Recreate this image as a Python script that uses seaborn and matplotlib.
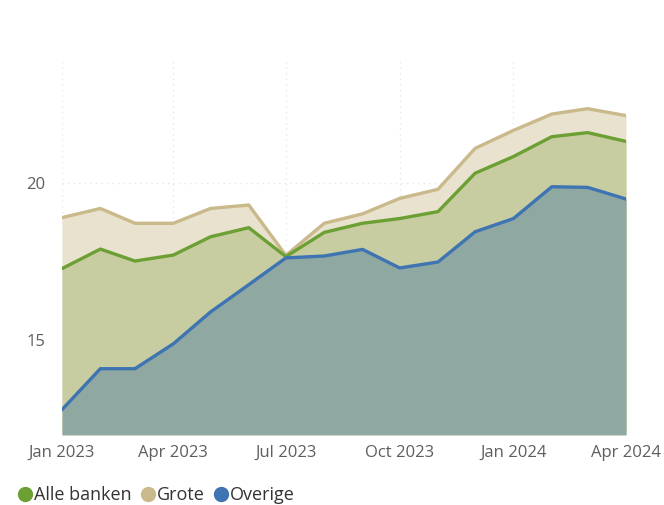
import matplotlib
matplotlib.use("Agg")
import matplotlib.pyplot as plt
import matplotlib.dates as mdates
from matplotlib.lines import Line2D
import seaborn as sns
import pandas as pd

months = ["2023-01", "2023-02", "2023-03", "2023-04", "2023-05", "2023-06",
          "2023-07", "2023-08", "2023-09", "2023-10", "2023-11", "2023-12",
          "2024-01", "2024-02", "2024-03", "2024-04"]
grote = [18.90, 19.19, 18.72, 18.72, 19.19, 19.30, 17.70, 18.72, 19.02, 19.51,
         19.80, 21.10, 21.67, 22.19, 22.36, 22.14]
alle_banken = [17.28, 17.90, 17.52, 17.71, 18.29, 18.58, 17.66, 18.43, 18.72, 18.87,
               19.09, 20.31, 20.84, 21.47, 21.60, 21.32]
overige = [12.80, 14.10, 14.10, 14.89, 15.90, 16.77, 17.62, 17.68, 17.89, 17.30,
           17.49, 18.45, 18.87, 19.88, 19.86, 19.49]

series_names = ["Alle banken", "Grote", "Overige"]
line_colors = {"Alle banken": "#6CA034", "Grote": "#C9B98B", "Overige": "#3E74B2"}
fill_colors = {"Alle banken": "#C7CDA0", "Grote": "#E8E2CE", "Overige": "#8FA8A2"}
y_ticks = [15, 20]
tick_color = "#605E5C"

dates = pd.to_datetime(months)
df = pd.DataFrame({"date": dates, "Grote": grote, "Alle banken": alle_banken, "Overige": overige})
long = df.melt(id_vars="date", var_name="serie", value_name="waarde")

sns.set_style("white")
plt.rcParams["font.family"] = ["Open Sans", "DejaVu Sans"]

fig = plt.figure(figsize=(6.64, 5.05), dpi=100)
ax = fig.add_axes([0.0934, 0.139, 0.8494, 0.748])

ymin = 12.0
for name in ["Grote", "Alle banken", "Overige"]:
    ax.fill_between(df["date"], df[name], ymin, color=fill_colors[name], lw=0, zorder=2)

sns.lineplot(data=long, x="date", y="waarde", hue="serie",
             hue_order=["Grote", "Alle banken", "Overige"],
             palette=line_colors, linewidth=2.4, legend=False, ax=ax, zorder=3)
for ln in ax.lines:
    ln.set_solid_joinstyle("round")

ax.set_xlim(dates[0], dates[-1])
ax.set_ylim(ymin, 24.0)
ax.set_yticks(y_ticks)
ax.xaxis.set_major_locator(mdates.MonthLocator(bymonth=[1, 4, 7, 10]))
ax.xaxis.set_major_formatter(mdates.DateFormatter("%b %Y"))
ax.set_xlabel("")
ax.set_ylabel("")
for s in ax.spines.values():
    s.set_visible(False)
ax.grid(True, axis="both", color="#E6E6E6", linestyle=(0, (1, 3)), linewidth=1.0, zorder=0)
ax.set_axisbelow(True)
ax.tick_params(axis="both", length=0, labelsize=12, labelcolor=tick_color)
ax.tick_params(axis="x", pad=7)
ax.tick_params(axis="y", pad=12)

handles = [Line2D([], [], marker="o", linestyle="none", markersize=10,
                  markerfacecolor=line_colors[n], markeredgecolor=line_colors[n])
           for n in series_names]
fig.legend(handles, series_names, loc="lower left", bbox_to_anchor=(0.0, -0.03),
           ncol=3, frameon=False, fontsize=13, handletextpad=0.0,
           columnspacing=0.4, handlelength=1.0, labelcolor="#333333")

fig.savefig("out.png", dpi=100)
